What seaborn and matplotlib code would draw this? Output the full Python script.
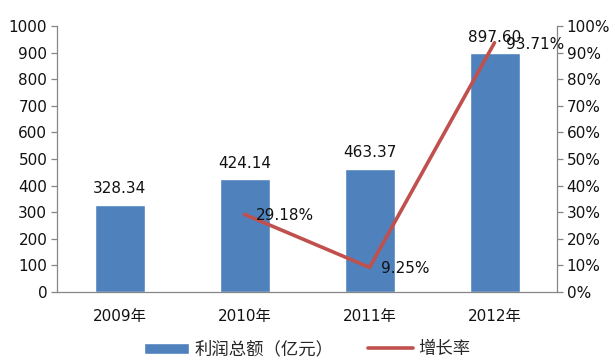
import matplotlib
matplotlib.use("Agg")
import matplotlib.pyplot as plt
import seaborn as sns
import pandas as pd
from matplotlib.ticker import FixedLocator, PercentFormatter

years = ["2009年", "2010年", "2011年", "2012年"]
profit = [328.34, 424.14, 463.37, 897.60]
growth_years = ["2010年", "2011年", "2012年"]
growth = [29.18, 9.25, 93.71]

bar_name = "利润总额（亿元）"
line_name = "增长率"

sns.set_style("white")
plt.rcParams["font.family"] = ["DejaVu Sans", "Noto Sans CJK SC"]

df = pd.DataFrame({"year": years, "profit": profit})
dg = pd.DataFrame({"year": growth_years, "growth": growth})

fig = plt.figure(figsize=(6.15, 3.63), dpi=100)
ax = fig.add_axes([0.0927, 0.1956, 0.8130, 0.7328])

sns.barplot(data=df, x="year", y="profit", color="#4F81BD", saturation=1,
            width=0.4, ax=ax, label=bar_name)
ax.set_xlim(-0.5, 3.5)
ax.set_ylim(0, 1000)
ax.set_yticks(range(0, 1001, 100))
ax.set_xlabel("")
ax.set_ylabel("")

for i, v in enumerate(profit):
    ax.annotate(f"{v:.2f}", (i, v), xytext=(0, 6), textcoords="offset points",
                ha="center", va="bottom", fontsize=11, color="#111111")

ax2 = ax.twinx()
sns.lineplot(data=dg, x="year", y="growth", color="#C0504D", linewidth=2.6,
             sort=False, ax=ax2, label=line_name)
ax2.set_ylim(0, 100)
ax2.set_yticks(range(0, 101, 10))
ax2.yaxis.set_major_formatter(PercentFormatter(decimals=0))
ax2.set_ylabel("")
ax2.set_xlabel("")
ax2.set_xlim(-0.5, 3.5)

for yr, g in zip(growth_years, growth):
    xi = years.index(yr)
    ax2.annotate(f"{g:.2f}%", (xi, g), xytext=(8, -1), textcoords="offset points",
                 ha="left", va="center", fontsize=11, color="#111111")

axis_color = "#868686"
for a in (ax, ax2):
    a.spines["top"].set_visible(False)
    for side in ("left", "right", "bottom"):
        a.spines[side].set_color(axis_color)
        a.spines[side].set_linewidth(0.9)
ax.spines["right"].set_visible(False)
ax2.spines["left"].set_visible(False)
ax2.spines["bottom"].set_visible(False)

ax.tick_params(axis="y", length=4, width=0.9, color=axis_color, labelsize=11,
               labelcolor="#111111", pad=3)
ax2.tick_params(axis="y", length=4, width=0.9, color=axis_color, labelsize=11,
                labelcolor="#111111", pad=3)
ax.tick_params(axis="x", which="major", length=0, labelsize=11,
               labelcolor="#111111", pad=12)
ax.xaxis.set_minor_locator(FixedLocator([-0.5, 0.5, 1.5, 2.5, 3.5]))
ax.tick_params(axis="x", which="minor", length=5, width=0.9, color=axis_color)

h1, l1 = ax.get_legend_handles_labels()
h2, l2 = ax2.get_legend_handles_labels()
if ax.get_legend():
    ax.get_legend().remove()
if ax2.get_legend():
    ax2.get_legend().remove()
fig.legend(h1 + h2, l1 + l2, loc="lower center", bbox_to_anchor=(0.5, -0.03),
           ncol=2, frameon=False, fontsize=12.5, handlelength=2.6,
           handleheight=0.6, columnspacing=2.0, handletextpad=0.3)

fig.savefig("out.png", dpi=100)
